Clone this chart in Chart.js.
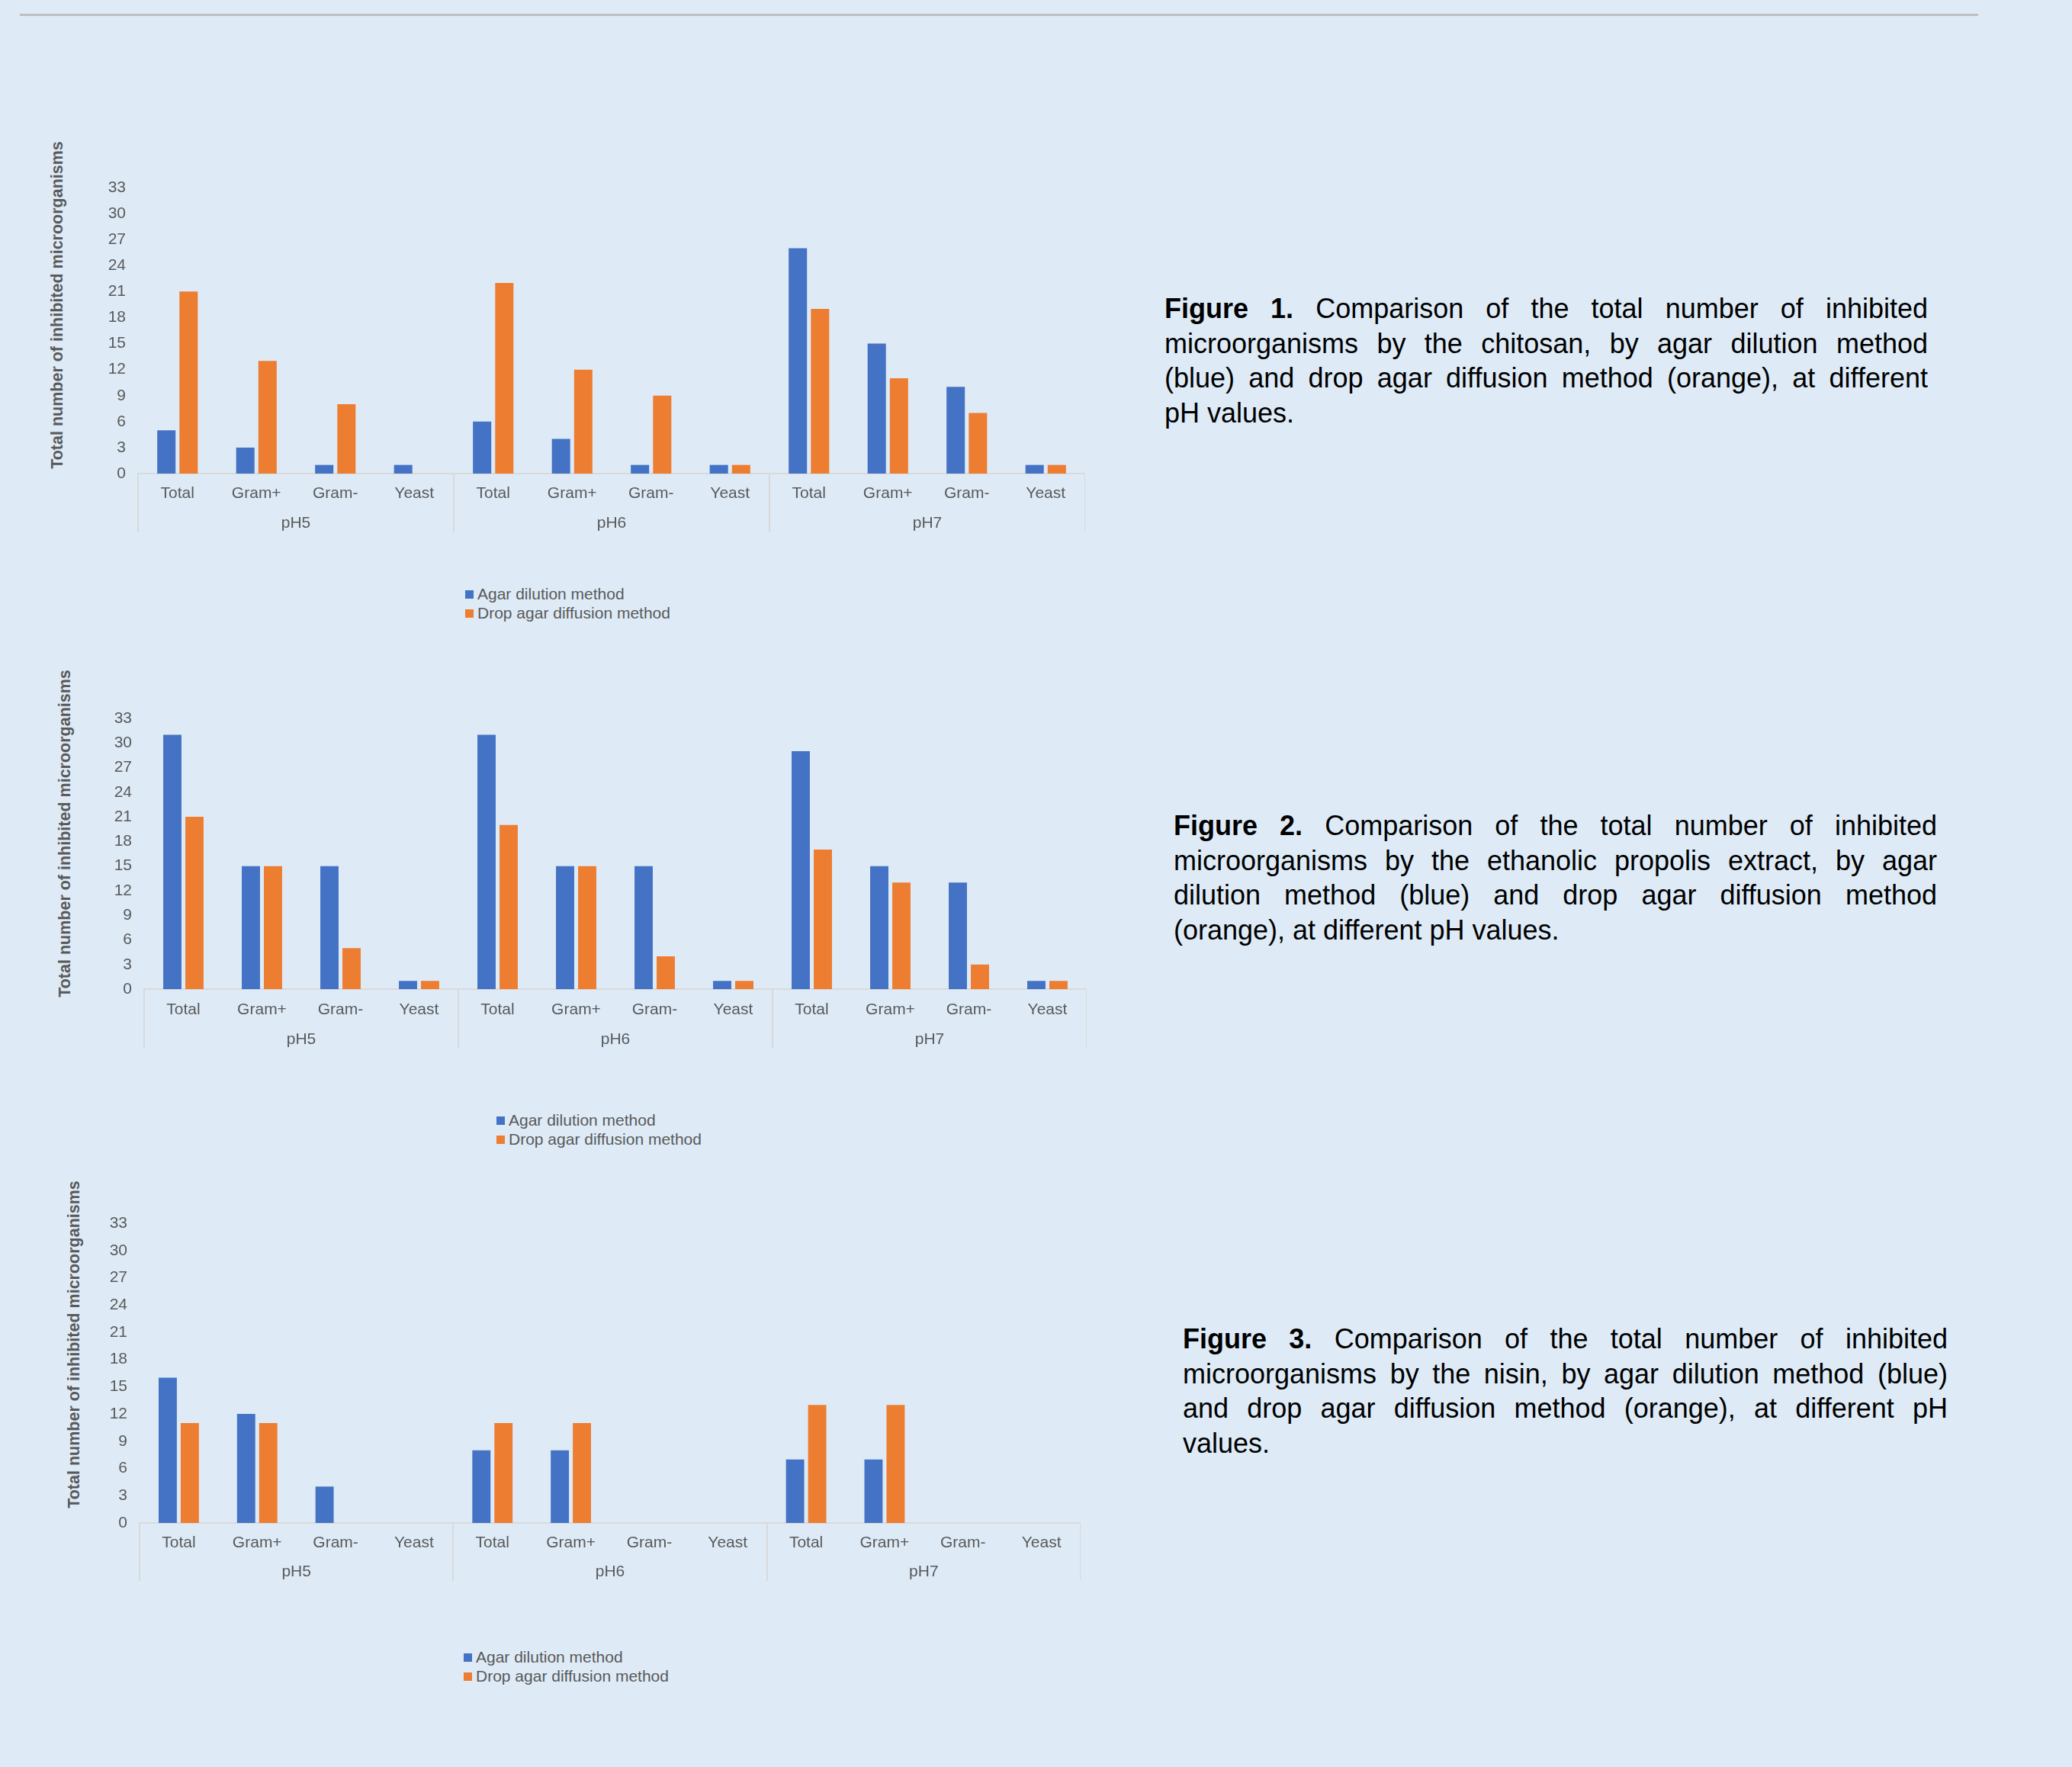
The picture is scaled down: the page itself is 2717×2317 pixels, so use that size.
<!DOCTYPE html>
<html lang="en">
<head>
<meta charset="UTF-8">
<title>Inhibited microorganisms by method and pH</title>
<script src="https://cdn.jsdelivr.net/npm/chart.js"></script>
<style>
  body { margin:0; width:2717px; height:2317px; background:#deebf7; position:relative; overflow:hidden; font-family:"Liberation Sans", Arial, sans-serif; }
  .rule { position:absolute; left:26px; top:18px; width:2568px; height:3px; background:#bfbfbf; }
  canvas { position:absolute; }
  .ytitle { position:absolute; transform:translate(-50%,-50%) rotate(-90deg); white-space:nowrap; font-weight:bold; font-size:21.5px; color:#595959; }
  .legend { position:absolute; font-size:21px; line-height:25px; color:#595959; white-space:nowrap; }
  .legend .sw { display:inline-block; width:11px; height:11px; margin-right:5px; vertical-align:1px; }
  .caption { position:absolute; font-size:36px; line-height:45.5px; color:#000; }
  .caption span { display:block; white-space:nowrap; }
  .caption .j { text-align:justify; text-align-last:justify; white-space:normal; }
</style>
</head>
<body>
<div class="rule"></div>

<!-- Figure 1 -->
<div class="ytitle" style="left:75px;top:400px;">Total number of inhibited microorganisms</div>
<canvas id="chart1" width="1322" height="470" style="left:101px;top:231px;"></canvas>
<div class="legend" style="left:610px;top:766px;">
  <div><span class="sw" style="background:#4472c4"></span>Agar dilution method</div>
  <div><span class="sw" style="background:#ed7d31"></span>Drop agar diffusion method</div>
</div>
<div class="caption" style="left:1527px;top:382px;width:1001px;">
  <span class="j"><b>Figure 1.</b> Comparison of the total number of inhibited</span>
  <span class="j">microorganisms by the chitosan, by agar dilution method</span>
  <span class="j">(blue) and drop agar diffusion method (orange), at different</span>
  <span>pH values.</span>
</div>

<!-- Figure 2 -->
<div class="ytitle" style="left:85px;top:1093px;">Total number of inhibited microorganisms</div>
<canvas id="chart2" width="1316" height="450" style="left:109px;top:927px;"></canvas>
<div class="legend" style="left:651px;top:1456px;">
  <div><span class="sw" style="background:#4472c4"></span>Agar dilution method</div>
  <div><span class="sw" style="background:#ed7d31"></span>Drop agar diffusion method</div>
</div>
<div class="caption" style="left:1539px;top:1060px;width:1001px;">
  <span class="j"><b>Figure 2.</b> Comparison of the total number of inhibited</span>
  <span class="j">microorganisms by the ethanolic propolis extract, by agar</span>
  <span class="j">dilution method (blue) and drop agar diffusion method</span>
  <span>(orange), at different pH values.</span>
</div>

<!-- Figure 3 -->
<div class="ytitle" style="left:97px;top:1763px;">Total number of inhibited microorganisms</div>
<canvas id="chart3" width="1314" height="488" style="left:103px;top:1589px;"></canvas>
<div class="legend" style="left:608px;top:2160px;">
  <div><span class="sw" style="background:#4472c4"></span>Agar dilution method</div>
  <div><span class="sw" style="background:#ed7d31"></span>Drop agar diffusion method</div>
</div>
<div class="caption" style="left:1551px;top:1733px;width:1003px;">
  <span class="j"><b>Figure 3.</b> Comparison of the total number of inhibited</span>
  <span class="j">microorganisms by the nisin, by agar dilution method (blue)</span>
  <span class="j">and drop agar diffusion method (orange), at different pH</span>
  <span>values.</span>
</div>

<script>
    // Categories and groups
    const groups = ['pH5', 'pH6', 'pH7'];
    const categories = ['Total', 'Gram+', 'Gram-', 'Yeast'];
    const yMax = 33;
    const yStep = 3;

    // Values, pH5 | pH6 | pH7
    const chitosanAgar = [5, 3, 1, 1, 6, 4, 1, 1, 26, 15, 10, 1];
    const chitosanDrop = [21, 13, 8, 0, 22, 12, 9, 1, 19, 11, 7, 1];
    const propolisAgar = [31, 15, 15, 1, 31, 15, 15, 1, 29, 15, 13, 1];
    const propolisDrop = [21, 15, 5, 1, 20, 15, 4, 1, 17, 13, 3, 1];
    const nisinAgar = [16, 12, 4, 0, 8, 8, 0, 0, 7, 7, 0, 0];
    const nisinDrop = [11, 11, 0, 0, 11, 11, 0, 0, 13, 13, 0, 0];

    const labels = groups.flatMap(() => categories);

    const BLUE = '#4472c4';
    const ORANGE = '#ed7d31';
    const TEXT = '#595959';
    const AXIS = '#d9d9d9';
    const tickFont = { family: '"Liberation Sans", Arial, sans-serif', size: 21 };

    function drawChart(id, agar, drop, sepLength, catPad, groupPad) {
        const ctx = document.getElementById(id).getContext('2d');
        new Chart(ctx, {
            type: 'bar',
            data: {
                labels: labels,
                datasets: [
                    { label: 'Agar dilution method', data: agar, backgroundColor: BLUE, categoryPercentage: 0.563, barPercentage: 0.825 },
                    { label: 'Drop agar diffusion method', data: drop, backgroundColor: ORANGE, categoryPercentage: 0.563, barPercentage: 0.825 }
                ]
            },
            options: {
                responsive: false,
                animation: false,
                devicePixelRatio: 1,
                layout: { padding: { top: 15, left: 0, right: 0, bottom: 0 } },
                plugins: { legend: { display: false }, tooltip: { enabled: false } },
                scales: {
                    x: {
                        offset: true,
                        grid: {
                            display: true, offset: true, drawOnChartArea: false, drawTicks: true,
                            tickLength: sepLength, lineWidth: 2,
                            // separators only between the pH groups
                            color: c => (c.index === undefined || c.index % categories.length === 0) ? AXIS : 'rgba(0,0,0,0)'
                        },
                        border: { display: true, color: AXIS, width: 2 },
                        ticks: { color: TEXT, font: tickFont, padding: catPad, autoSkip: false, maxRotation: 0 },
                        afterFit: s => { s.height = 40; }
                    },
                    x2: {
                        type: 'category',
                        labels: groups,
                        position: 'bottom',
                        offset: true,
                        grid: { display: false, drawTicks: false },
                        border: { display: false },
                        ticks: { color: TEXT, font: tickFont, padding: groupPad, autoSkip: false, maxRotation: 0 },
                        afterFit: s => { s.height = 40; }
                    },
                    y: {
                        min: 0,
                        max: yMax,
                        grid: { display: false, drawTicks: false },
                        border: { display: false },
                        ticks: { stepSize: yStep, color: TEXT, font: tickFont, padding: 16 },
                        // fixed width, and let layout.padding alone set the top of the plot
                        afterFit: s => { s.width = 80; s.paddingTop = 0; s.paddingBottom = 0; }
                    }
                }
            }
        });
    }

    drawChart('chart1', chitosanAgar, chitosanDrop, 77, -63, 13);
    drawChart('chart2', propolisAgar, propolisDrop, 78, -63, 14);
    drawChart('chart3', nisinAgar, nisinDrop, 76, -62, 12);
</script>
</body>
</html>
